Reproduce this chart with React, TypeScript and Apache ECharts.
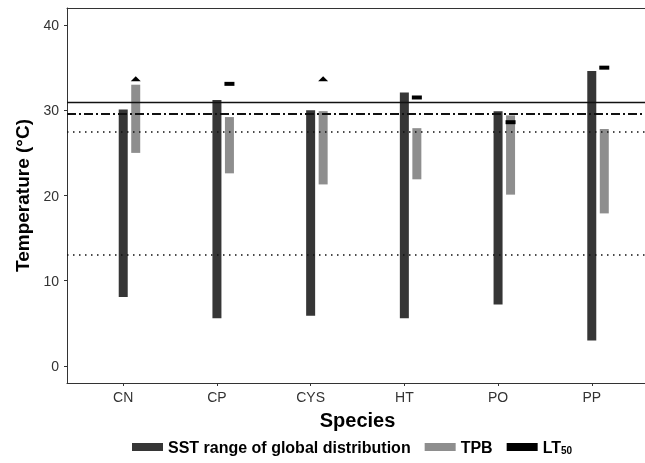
import React, { useEffect, useRef } from "react";
import * as echarts from "echarts";

const species = ["CN", "CP", "CYS", "HT", "PO", "PP"];
const sstMin = [8.1, 5.6, 5.9, 5.6, 7.2, 3.0];
const sstMax = [30.1, 31.2, 30.0, 32.1, 29.9, 34.6];
const tpbMin = [25.0, 22.6, 21.3, 21.9, 20.1, 17.9];
const tpbMax = [33.0, 29.2, 29.9, 27.9, 29.4, 27.8];
const lt50 = [33.7, 33.1, 33.7, 31.5, 28.6, 35.0];
const lt50Shape = ["triangle", "rect", "triangle", "rect", "rect", "rect"];
const yTicks = [0, 10, 20, 30, 40];
const solidLine = 31.0;
const dashDotLine = 29.6;
const dottedLines = [27.5, 13.0];

const FONT = "Liberation Sans, Arial, sans-serif";

function rangeBar(offsetPx: number, widthPx: number) {
  return (params: any, api: any) => {
    const x = api.value(0);
    const lo = api.coord([x, api.value(1)]);
    const hi = api.coord([x, api.value(2)]);
    return {
      type: "rect",
      shape: {
        x: lo[0] + offsetPx - widthPx / 2,
        y: hi[1],
        width: widthPx,
        height: lo[1] - hi[1],
      },
      style: { fill: api.visual("color") },
    };
  };
}

export default function App() {
  const ref = useRef<HTMLDivElement>(null);
  useEffect(() => {
    if (!ref.current) return;
    const chart = echarts.init(ref.current, undefined, { renderer: "svg" });
    const xs = species.map((_, i) => i + 1);
    chart.setOption({
      animation: false,
      textStyle: { fontFamily: FONT },
      grid: {
        left: 67,
        top: 8,
        width: 581,
        height: 375,
        outerBoundsMode: "none",
        containLabel: false,
        show: false,
      },
      legend: {
        left: 127,
        top: 434,
        itemWidth: 31,
        itemHeight: 8,
        itemGap: 14,
        selectedMode: false,
        textStyle: {
          fontFamily: FONT,
          fontSize: 16,
          fontWeight: "bold",
          color: "#000",
          rich: {
            sub: { fontSize: 10, fontWeight: "bold", verticalAlign: "bottom", padding: [7, 0, 0, 0], fontFamily: FONT, color: "#000" },
          },
        },
        formatter: (n: string) => (n === "LT50" ? "LT{sub|50}" : n),
        data: [
          { name: "SST range of global distribution", icon: "rect" },
          { name: "TPB", icon: "rect" },
          { name: "LT50", icon: "rect", itemStyle: { color: "#000", opacity: 1 } },
        ],
      },
      xAxis: [
        {
          type: "value",
          min: 0.4,
          max: 6.6,
          name: "Species",
          nameLocation: "middle",
          nameGap: 27,
          nameTextStyle: { fontSize: 20, fontWeight: "bold", color: "#000", fontFamily: FONT },
          axisLine: { show: true, onZero: false, lineStyle: { color: "#333", width: 1 } },
          axisTick: { show: true, length: 3, lineStyle: { color: "#333" }, customValues: xs },
          axisLabel: {
            customValues: xs,
            formatter: (v: number) => species[Math.round(v) - 1] ?? "",
            fontSize: 14,
            color: "#333",
            margin: 7,
            fontFamily: FONT,
          },
          splitLine: { show: false },
        },
        {
          type: "value",
          position: "top",
          min: 0.4,
          max: 6.6,
          axisLine: { show: true, onZero: false, lineStyle: { color: "#333", width: 1 } },
          axisTick: { show: false },
          axisLabel: { show: false },
          splitLine: { show: false },
        },
      ],
      yAxis: {
        type: "value",
        min: -2,
        max: 42,
        name: "Temperature (°C)",
        nameLocation: "middle",
        nameGap: 35,
        nameTextStyle: { fontSize: 19, fontWeight: "bold", color: "#000", fontFamily: FONT },
        axisLine: { show: true, onZero: false, lineStyle: { color: "#333", width: 1 } },
        axisTick: { show: true, length: 3, lineStyle: { color: "#333" }, customValues: yTicks },
        axisLabel: { customValues: yTicks, fontSize: 14, color: "#333", margin: 8, fontFamily: FONT },
        splitLine: { show: false },
      },
      series: [
        {
          name: "SST range of global distribution",
          type: "custom",
          itemStyle: { color: "#363636" },
          renderItem: rangeBar(0, 9),
          encode: { x: 0, y: [1, 2] },
          data: xs.map((x, i) => [x, sstMin[i], sstMax[i]]),
          markLine: {
            silent: true,
            symbol: "none",
            label: { show: false },
            data: [
              { yAxis: solidLine, lineStyle: { color: "#111", width: 1.3, type: "solid" } },
              { yAxis: dashDotLine, lineStyle: { color: "#111", width: 1.8, type: [9, 3, 2, 3] } },
              ...dottedLines.map((v) => ({
                yAxis: v,
                lineStyle: { color: "#111", width: 1.5, type: [1.5, 4.5] },
              })),
            ],
          },
        },
        {
          name: "TPB",
          type: "custom",
          itemStyle: { color: "#8e8e8e" },
          renderItem: rangeBar(12.5, 9),
          encode: { x: 0, y: [1, 2] },
          data: xs.map((x, i) => [x, tpbMin[i], tpbMax[i]]),
        },
        {
          name: "LT50",
          type: "scatter",
          itemStyle: { color: "#000", opacity: 1 },
          symbolOffset: [12.5, 0],
          data: xs.map((x, i) => ({
            value: [x, lt50[i]],
            symbol: lt50Shape[i],
            symbolSize: lt50Shape[i] === "triangle" ? [10, 5] : [10, 4],
          })),
        },
      ],
    });
    return () => chart.dispose();
  }, []);
  return (
    <div
      ref={ref}
      style={{ position: "fixed", left: 0, top: 0, width: 645, height: 463 }}
    />
  );
}
